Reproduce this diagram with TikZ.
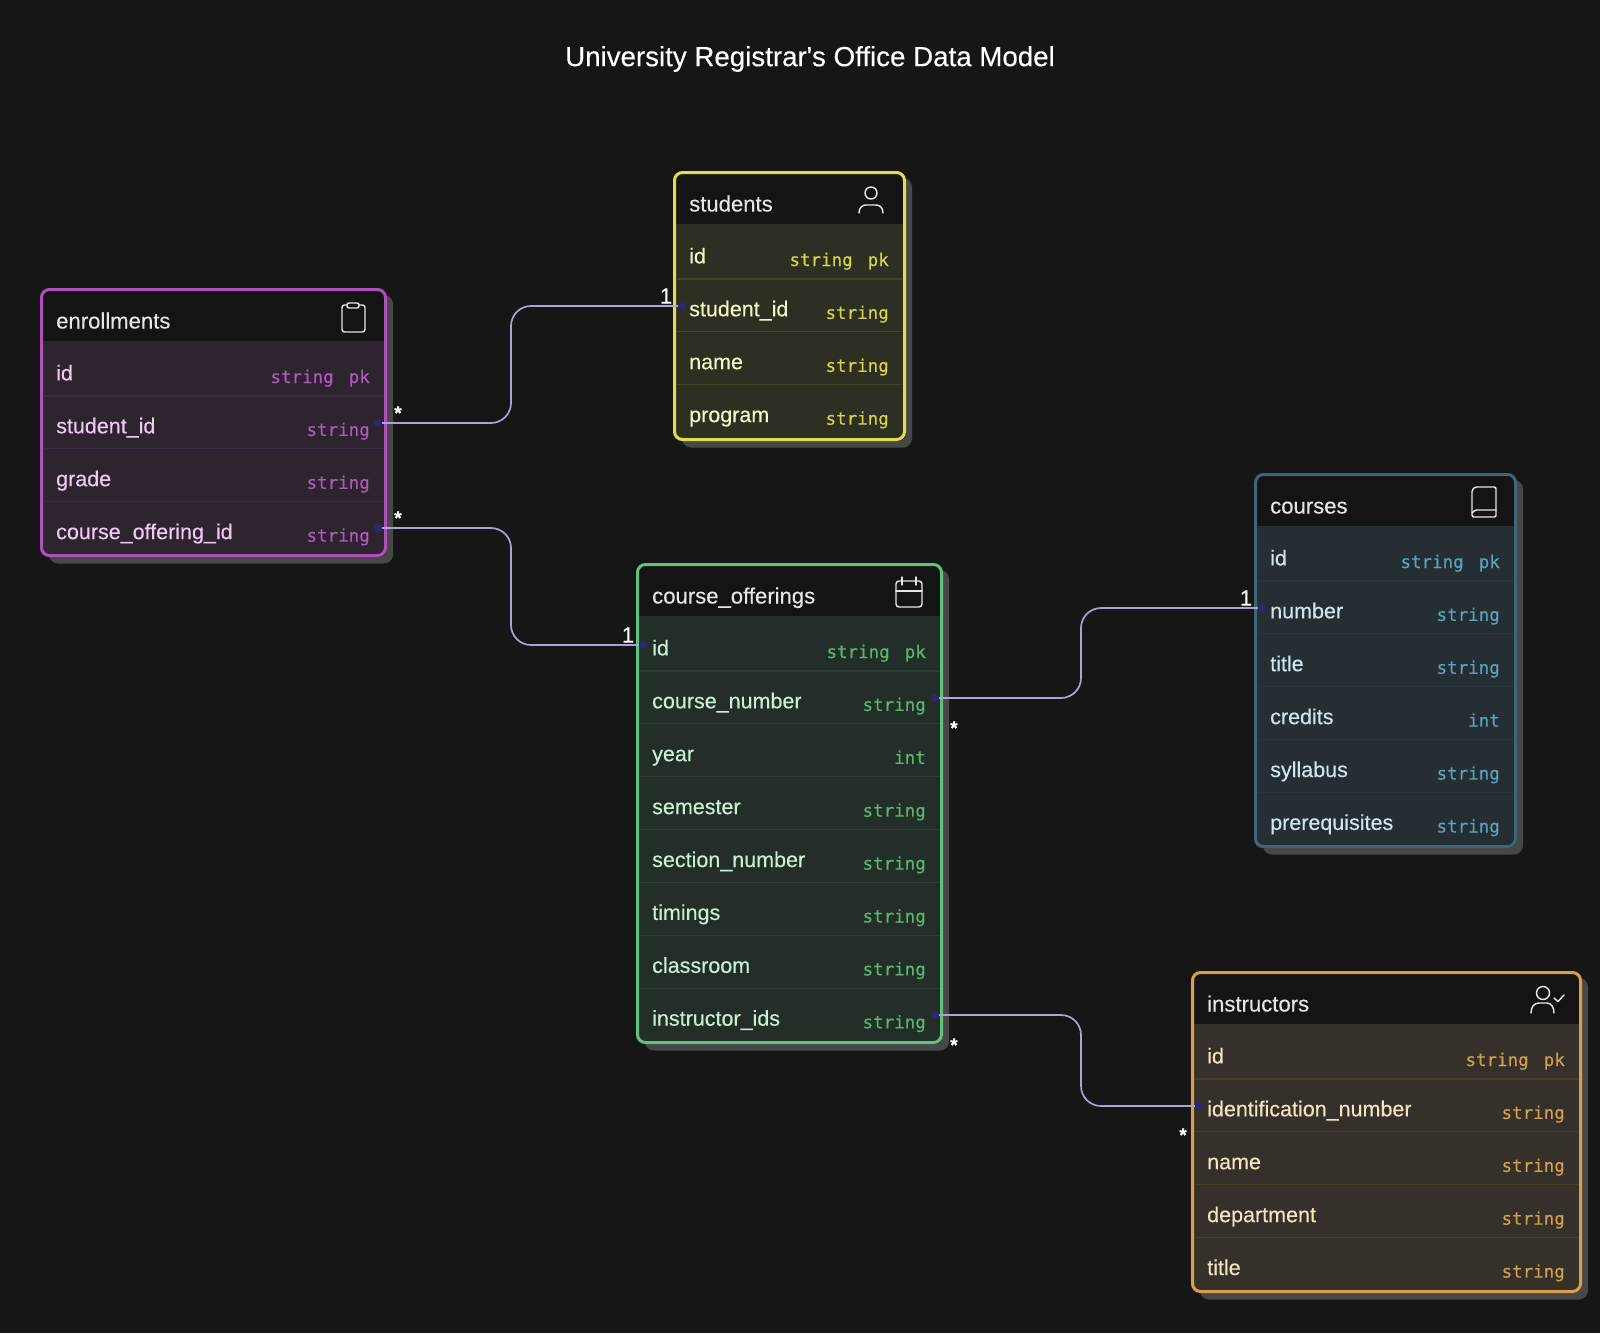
\documentclass[tikz,border=0pt]{standalone}
\usepackage{fontspec}
\setmainfont[FakeBold=0.25]{Liberation Sans}
\newfontfamily\titlefont[Ligatures=TeXOff,FakeBold=0.3]{Liberation Sans}
\newfontfamily\codefont[FakeBold=0.25]{DejaVu Sans Mono}
\definecolor{pagebg}{HTML}{161616}
\definecolor{headbg}{HTML}{141414}
\definecolor{shadowc}{HTML}{474747}
\definecolor{headtxt}{HTML}{E6E6E6}
\definecolor{linkc}{HTML}{A8A3D8}
\definecolor{dotc}{HTML}{2C2870}
\definecolor{stB}{HTML}{DDE04C}\definecolor{stF}{HTML}{2F2E22}\definecolor{stN}{HTML}{F6F6C4}\definecolor{stT}{HTML}{D3D64C}
\definecolor{enB}{HTML}{AE4FBC}\definecolor{enF}{HTML}{2E2430}\definecolor{enN}{HTML}{EFCBF2}\definecolor{enT}{HTML}{B05ABC}
\definecolor{coB}{HTML}{3F6678}\definecolor{coF}{HTML}{252E33}\definecolor{coN}{HTML}{CFE6F0}\definecolor{coT}{HTML}{5BA4BE}
\definecolor{ofB}{HTML}{62C27C}\definecolor{ofF}{HTML}{242E28}\definecolor{ofN}{HTML}{CBEFD2}\definecolor{ofT}{HTML}{58B870}
\definecolor{inB}{HTML}{D99F4C}\definecolor{inF}{HTML}{35302A}\definecolor{inN}{HTML}{F5E4C4}\definecolor{inT}{HTML}{D3A050}
\tikzset{
  fieldname/.style={anchor=base west,inner sep=0pt,font=\fontsize{21.5}{24}\selectfont},
  fieldtype/.style={anchor=base east,inner sep=0pt,font=\codefont\fontsize{17.5}{20}\selectfont},
  headname/.style={anchor=base west,inner sep=0pt,text=headtxt,font=\fontsize{22.1}{24}\selectfont},
  tablebox/.style={draw=#1,line width=3pt,rounded corners=8pt,fill=none,inner sep=0pt},
  enddot/.style={circle,fill=dotc,draw=none,inner sep=0pt,minimum size=8pt},
  link/.style={draw=linkc,line width=1.7pt,rounded corners=20pt},
  cardlabel/.style={inner sep=0pt,text=white,font=\fontsize{22}{24}\selectfont},
  manylabel/.style={inner sep=0pt,text=white,font=\bfseries\fontsize{19}{20}\selectfont},
  iconline/.style={draw=headtxt,line width=1.45pt,line cap=round,line join=round},
}
% title, left, right, top, bottom, header bottom, colour prefix
\newcommand{\entity}[7]{%
  \def\xL{#2}\def\xR{#3}\def\yT{#4}\def\yB{#5}\def\yH{#6}\def\cp{#7}%
  \fill[shadowc,rounded corners=9pt] (#2+9,#4+7) rectangle (#3+6,#5+6.5);
  \begin{scope}
    \clip[rounded corners=8pt] (#2,#4) rectangle (#3,#5);
    \fill[#7F] (#2,#4) rectangle (#3,#5);
    \fill[headbg] (#2,#4) rectangle (#3,#6);
  \end{scope}
  \node[tablebox=#7B,minimum width={#3-#2-3},minimum height={#5-#4-3}] (#7-box) at ({(#2+#3)/2},{(#4+#5)/2}) {};
  \node[headname] (#7-title) at ({#2+16},{#4+40.5}) {#1};
}
% row index, name, type
\newcommand{\fieldrow}[3]{%
  \node[fieldname,text=\cp N] (\cp-n#1) at ({\xL+16},{\yH+39.4+#1*52.9}) {#2};
  \node[fieldtype,text=\cp T] (\cp-t#1) at ({\xR-17},{\yH+42+#1*52.9}) {#3};
  \ifnum#1>0 \draw[\cp B!12!\cp F,line width=1.2pt] (\xL+3,{\yH+#1*52.9+2}) -- (\xR-3,{\yH+#1*52.9+2});\fi
}
\begin{document}
\begin{tikzpicture}[x=1pt,y=-1pt]
\useasboundingbox[fill=pagebg] (0,0) rectangle (1600,1333);
\node[inner sep=0pt,text=white,font=\titlefont\fontsize{27.7}{30}\selectfont] (title) at (810,59) {University Registrar's Office Data Model};

% students
\entity{students}{673}{906}{171}{441}{224}{st}
\fieldrow{0}{id}{string\hspace{4.5pt} pk}
\fieldrow{1}{student\_id}{string}
\fieldrow{2}{name}{string}
\fieldrow{3}{program}{string}
\draw[iconline] (871,193) circle (6);
\draw[iconline] (859,213) .. controls (859,207) and (863,205) .. (866,205) -- (876,205) .. controls (879,205) and (883,207) .. (883,213);

% enrollments
\entity{enrollments}{40}{387}{288}{557}{341}{en}
\fieldrow{0}{id}{string\hspace{4.5pt} pk}
\fieldrow{1}{student\_id}{string}
\fieldrow{2}{grade}{string}
\fieldrow{3}{course\_offering\_id}{string}
\draw[iconline,rounded corners=2.5pt] (347,305) -- (342,305) -- (342,332) -- (365,332) -- (365,305) -- (359,305);
\draw[iconline,rounded corners=2pt] (347,303) rectangle (359,308);

% courses
\entity{courses}{1254}{1517}{473}{848}{526}{co}
\fieldrow{0}{id}{string\hspace{4.5pt} pk}
\fieldrow{1}{number}{string}
\fieldrow{2}{title}{string}
\fieldrow{3}{credits}{int}
\fieldrow{4}{syllabus}{string}
\fieldrow{5}{prerequisites}{string}
\draw[iconline,rounded corners=1.5pt] (1496,487) -- (1475,487) -- (1472,490) -- (1472,517) -- (1496,517) -- cycle;
\draw[iconline,rounded corners=1.5pt] (1496,510) -- (1475,510) -- (1472,513);

% course_offerings
\entity{course\_offerings}{636}{943}{563}{1044}{616}{of}
\fieldrow{0}{id}{string\hspace{4.5pt} pk}
\fieldrow{1}{course\_number}{string}
\fieldrow{2}{year}{int}
\fieldrow{3}{semester}{string}
\fieldrow{4}{section\_number}{string}
\fieldrow{5}{timings}{string}
\fieldrow{6}{classroom}{string}
\fieldrow{7}{instructor\_ids}{string}
\draw[iconline,rounded corners=3pt] (896,581) rectangle (922,607);
\draw[iconline] (896,591) -- (922,591) (902,577) -- (902,585) (916,577) -- (916,585);

% instructors
\entity{instructors}{1191}{1582}{971}{1293}{1024}{in}
\fieldrow{0}{id}{string\hspace{4.5pt} pk}
\fieldrow{1}{identification\_number}{string}
\fieldrow{2}{name}{string}
\fieldrow{3}{department}{string}
\fieldrow{4}{title}{string}
\draw[iconline] (1543,993) circle (6.5);
\draw[iconline] (1531,1013) .. controls (1531,1007) and (1534,1003) .. (1539,1003) -- (1547,1003) .. controls (1551,1003) and (1554,1007) .. (1554,1013);
\draw[iconline] (1554,998) -- (1558,1001.5) -- (1564,995);

% connector end points
\node[enddot] (a1) at (378,423) {};
\node[enddot] (b1) at (682,306) {};
\node[enddot] (a2) at (378,528) {};
\node[enddot] (b2) at (643,645) {};
\node[enddot] (a3) at (935,698) {};
\node[enddot] (b3) at (1262,608) {};
\node[enddot] (a4) at (935,1015) {};
\node[enddot] (b4) at (1199,1106) {};
\coordinate (m1) at (511,0);
\coordinate (m2) at (1081,0);
\draw[link] (a1.east) -- (m1 |- a1) -- (m1 |- b1) -- (b1.west);
\draw[link] (a2.east) -- (m1 |- a2) -- (m1 |- b2) -- (b2.west);
\draw[link] (a3.east) -- (m2 |- a3) -- (m2 |- b3) -- (b3.west);
\draw[link] (a4.east) -- (m2 |- a4) -- (m2 |- b4) -- (b4.west);

% cardinalities
\node[cardlabel] (c1) at (666,296) {1};
\node[cardlabel] (c2) at (628,635) {1};
\node[cardlabel] (c3) at (1246,598) {1};
\node[manylabel] (s1) at (398,413) {*};
\node[manylabel] (s2) at (398,518) {*};
\node[manylabel] (s3) at (954,728) {*};
\node[manylabel] (s4) at (954,1045) {*};
\node[manylabel] (s5) at (1183,1135) {*};
\end{tikzpicture}
\end{document}
